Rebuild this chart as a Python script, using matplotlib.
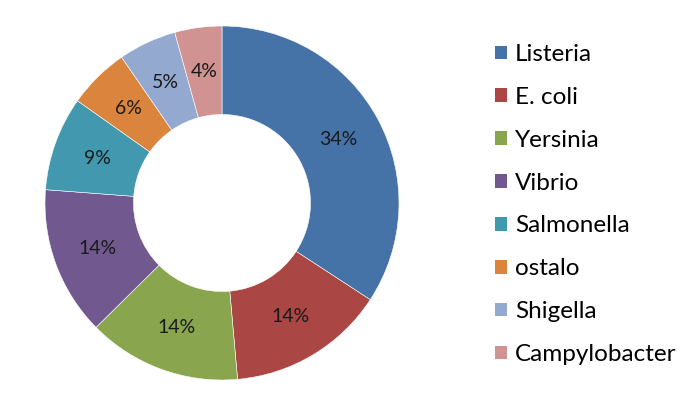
import matplotlib
matplotlib.use("Agg")
import matplotlib.pyplot as plt
from matplotlib.patches import Patch

labels = ["Listeria", "E. coli", "Yersinia", "Vibrio", "Salmonella", "ostalo", "Shigella", "Campylobacter"]
values = [34.2, 14.4, 14.0, 13.6, 8.6, 5.6, 5.3, 4.3]
colors = ["#4572A7", "#AA4643", "#89A54E", "#71588F", "#4198AF", "#DB843D", "#93A9CF", "#D19392"]

plt.rcParams['font.family'] = ['Lato', 'DejaVu Sans']

fig = plt.figure(figsize=(6.84, 3.95), dpi=100)
ax = fig.add_axes([45/684, 15/395, 354/684, 354/395])
wedges, texts, autotexts = ax.pie(
    values,
    colors=colors,
    startangle=90,
    counterclock=False,
    autopct="%.0f%%",
    pctdistance=0.75,
    radius=1.0,
    wedgeprops=dict(width=0.5, edgecolor="white", linewidth=0.4),
    textprops=dict(fontsize=14, color="#1a1a1a"),
)
ax.set_xlim(-1, 1)
ax.set_ylim(-1, 1)
ax.set_aspect("equal")

handles = [Patch(facecolor=c, edgecolor="none") for c in colors]
fig.legend(
    handles, labels,
    loc="upper left",
    bbox_to_anchor=(495/684, 1 - 44/395),
    frameon=False,
    fontsize=17.5,
    handlelength=0.48,
    handleheight=0.48,
    handletextpad=0.35,
    labelspacing=0.9,
    borderaxespad=0,
    borderpad=0,
)

fig.savefig("out.png", dpi=100)
